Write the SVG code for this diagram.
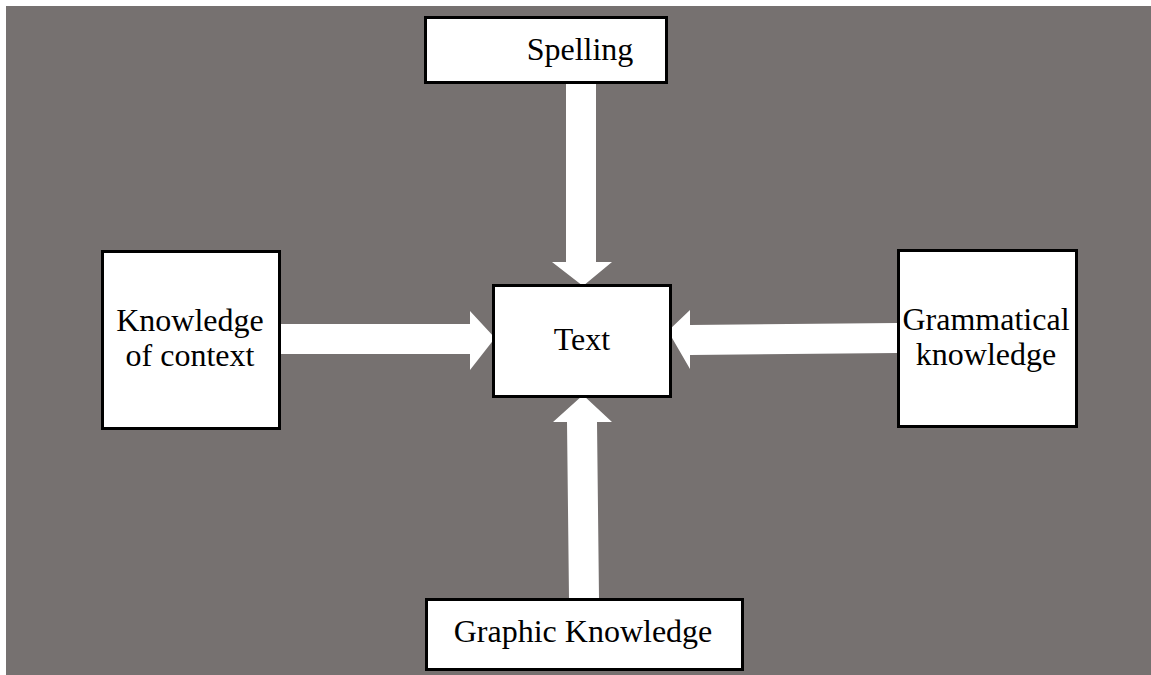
<svg xmlns="http://www.w3.org/2000/svg" width="1151" height="675" viewBox="0 0 1151 675">
  <style>
    .box { fill: #ffffff; stroke: #000000; stroke-width: 3; }
    .lbl { font-family: "Liberation Serif", "Times New Roman", serif; font-size: 32px; fill: #000000; text-anchor: middle; }
    .arrow { fill: #ffffff; stroke: none; }
  </style>
  <rect x="6" y="6" width="1145" height="669" fill="#767170"/>

  <!-- block arrows pointing into the central node -->
  <g id="connectors">
    <!-- from Spelling (down) -->
    <polygon class="arrow" points="566,83 596,83 596,262 612,262 583,286 552,262 566,262"/>
    <!-- from Knowledge of context (right) -->
    <polygon class="arrow" points="280,324 470,324 470,311 495,338 470,370 470,354 280,354"/>
    <!-- from Grammatical knowledge (left) -->
    <polygon class="arrow" points="897,323 690,325 690,310 668,331 690,369 690,355 897,353"/>
    <!-- from Graphic Knowledge (up) -->
    <polygon class="arrow" points="569,598 599,598 597,422 612,422 583,395 553,422 567,422"/>
  </g>

  <g id="node-spelling">
    <rect class="box" x="425.5" y="17.5" width="241" height="65"/>
    <text class="lbl" x="580" y="60">Spelling</text>
  </g>

  <g id="node-text">
    <rect class="box" x="493.5" y="285.5" width="177" height="111"/>
    <text class="lbl" x="582" y="350">Text</text>
  </g>

  <g id="node-context">
    <rect class="box" x="102.5" y="251.5" width="177" height="177"/>
    <text class="lbl" x="190" y="331">Knowledge</text>
    <text class="lbl" x="190" y="366">of context</text>
  </g>

  <g id="node-grammar">
    <rect class="box" x="898.5" y="250.5" width="178" height="176"/>
    <text class="lbl" x="986" y="330">Grammatical</text>
    <text class="lbl" x="986" y="365">knowledge</text>
  </g>

  <g id="node-graphic">
    <rect class="box" x="426.5" y="599.5" width="316" height="70"/>
    <text class="lbl" x="583" y="642">Graphic Knowledge</text>
  </g>
</svg>
